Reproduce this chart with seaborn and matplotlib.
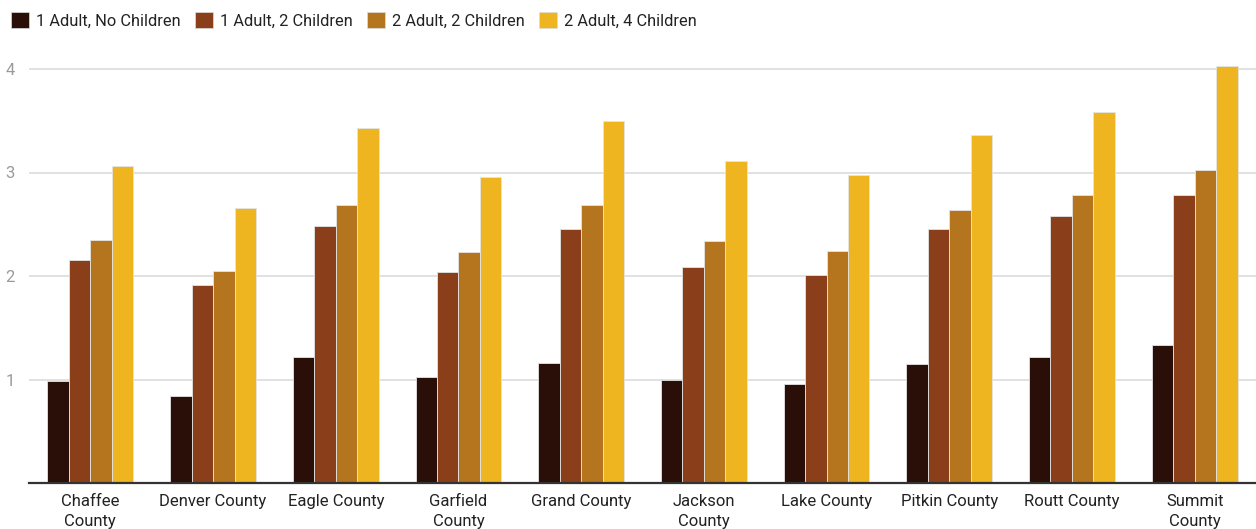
import matplotlib
matplotlib.use("Agg")
import matplotlib.pyplot as plt
import seaborn as sns
import pandas as pd

counties = ["Chaffee\nCounty", "Denver County", "Eagle County", "Garfield\nCounty",
            "Grand County", "Jackson\nCounty", "Lake County", "Pitkin County",
            "Routt County", "Summit\nCounty"]
series = ["1 Adult, No Children", "1 Adult, 2 Children",
          "2 Adult, 2 Children", "2 Adult, 4 Children"]
one_adult_no_kids = [0.99, 0.84, 1.22, 1.02, 1.16, 1.00, 0.96, 1.15, 1.22, 1.33]
one_adult_two_kids = [2.15, 1.91, 2.48, 2.04, 2.45, 2.09, 2.01, 2.45, 2.58, 2.78]
two_adult_two_kids = [2.35, 2.05, 2.69, 2.23, 2.69, 2.34, 2.24, 2.64, 2.78, 3.02]
two_adult_four_kids = [3.06, 2.66, 3.43, 2.96, 3.50, 3.11, 2.98, 3.36, 3.58, 4.03]
palette = ["#2a0e08", "#8a3f1a", "#b5741e", "#eeb520"]

values = [one_adult_no_kids, one_adult_two_kids, two_adult_two_kids, two_adult_four_kids]
df = pd.DataFrame({
    "county": counties * len(series),
    "household": [s for s in series for _ in counties],
    "value": [v for vals in values for v in vals],
})

sns.set_theme(style="white")
plt.rcParams["font.family"] = ["Roboto", "DejaVu Sans"]

fig = plt.figure(figsize=(12.56, 5.29), dpi=100)
ax = fig.add_axes([29 / 1256, 46 / 529, 1 - 29 / 1256, 434.7 / 529])

sns.barplot(data=df, x="county", y="value", hue="household", order=counties,
            hue_order=series, palette=palette, width=0.70, ax=ax,
            edgecolor="#e4e4e4", linewidth=0.6, saturation=1, legend=False)

ax.set_xlim(-0.5, 9.5)
ax.set_ylim(0, 4.2)
ax.set_yticks([1, 2, 3, 4])
ax.set_yticklabels(["1", "2", "3", "4"])
ax.set_xlabel("")
ax.set_ylabel("")
ax.grid(axis="y", color="#dcdcdc", linewidth=1.2)
ax.set_axisbelow(True)
for side in ["top", "right", "left"]:
    ax.spines[side].set_visible(False)
ax.spines["bottom"].set_color("#333333")
ax.spines["bottom"].set_linewidth(1.6)
ax.tick_params(axis="y", length=0, pad=10, labelsize=12, labelcolor="#9a9a9a")
ax.tick_params(axis="x", length=0, pad=8, labelsize=12, labelcolor="#222222")
for lbl in ax.get_xticklabels():
    lbl.set_linespacing(1.38)
    lbl.set_verticalalignment("top")

handles = [plt.Rectangle((0, 0), 1, 1, facecolor=c, edgecolor="#dddddd", linewidth=0.5)
           for c in palette]
fig.legend(handles, series, loc="upper left", bbox_to_anchor=(-0.003, 1.005), ncol=4,
           frameon=False, fontsize=11.8, handlelength=1.1, handleheight=1.1,
           handletextpad=0.4, columnspacing=0.9, labelcolor="#222222")

fig.savefig("out.png", dpi=100, facecolor="white")
